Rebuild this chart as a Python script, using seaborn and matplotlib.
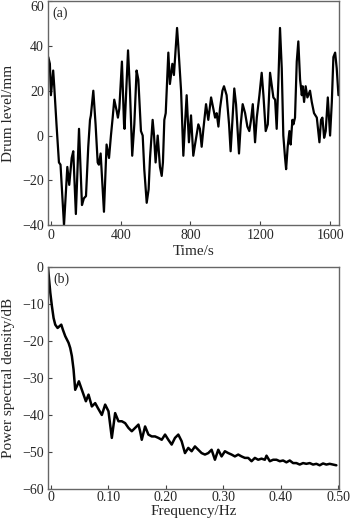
import numpy as np
import pandas as pd
import matplotlib
matplotlib.use("Agg")
import matplotlib.pyplot as plt
import seaborn as sns

# (a) drum level time series
time_s = [-15, -6, 0, 13, 19, 32, 46, 55, 75, 94, 105, 119, 128, 143, 161, 178, 189, 201,
          214, 224, 229, 243, 256, 268, 275, 285, 304, 319, 333, 344, 354, 363, 377, 384,
          392, 407, 419, 422, 442, 453, 466, 478, 491, 501, 516, 526, 535, 549, 560, 568,
          583, 591, 600, 612, 625, 635, 642, 650, 658, 673, 682, 696, 705, 723, 730, 746,
          759, 767, 778, 791, 803, 816, 826, 845, 854, 864, 874, 889, 902, 918, 941, 950,
          960, 969, 983, 992, 1007, 1021, 1030, 1046, 1051, 1061, 1078, 1088, 1099, 1113,
          1126, 1137, 1147, 1157, 1170, 1180, 1195, 1208, 1218, 1231, 1243, 1256, 1275,
          1285, 1294, 1304, 1313, 1323, 1332, 1342, 1348, 1357, 1367, 1374, 1384, 1390,
          1399, 1409, 1418, 1428, 1438, 1443, 1451, 1460, 1470, 1485, 1495, 1508, 1524,
          1539, 1548, 1556, 1566, 1575, 1587, 1600, 1610, 1619, 1629, 1638, 1648]
level_mm = [35, 32, 18, 29, 22, 5, -12, -13, -40, -14, -22, -10, -7, -35, 3, -31, -28, -27,
            -5, 7, 9, 20, 5, -12, -13, -8, -34, -4, -10, 0, 8, 16, 11, 8,
            12, 33, 5, 3, 38, 20, -9, 5, 29, 25, 2, 0, -15, -30, -24, -10,
            7, 0, -12, 0, -14, -18, -12, 7, 10, 37, 23, 32, 27, 48, 40, 20,
            -9, 3, 18, -3, 9, -9, -4, 5, 3, -5, 3, 14, 7, 17, 8, 10,
            4, 12, 20, 22, 18, 5, -7, 15, 21, 14, -8, 5, 14, 10,
            4, 2, 7, 14, -3, 8, 18, 28, 18, 2, 5, 28, 17,
            16, 3, 25, 48, 30, 0, -10, -15, -5, 2, -4, 7, 5,
            8, 33, 42, 25, 18, 22, 15, 22, 17, 20, 15, 10, 8,
            -3, 7, 8, -1, 2, 17, 0, 15, 35, 37, 30, 18]

# (b) power spectral density
freq_hz = [-0.0055, -0.0014, 0.0014, 0.0043, 0.0072, 0.0113, 0.0148, 0.0177, 0.0206, 0.0246,
           0.0304, 0.0333, 0.0362, 0.0391, 0.0420, 0.0461, 0.0484, 0.0536, 0.0606, 0.0652,
           0.0710, 0.0768, 0.0814, 0.0884, 0.0942, 0.1000, 0.1058, 0.1116, 0.1174, 0.1232,
           0.1290, 0.1348, 0.1406, 0.1464, 0.1522, 0.1551, 0.1580, 0.1638, 0.1696, 0.1754,
           0.1812, 0.1870, 0.1928, 0.1986, 0.2043, 0.2101, 0.2159, 0.2217, 0.2275, 0.2333,
           0.2391, 0.2449, 0.2507, 0.2565, 0.2623, 0.2681, 0.2739, 0.2797, 0.2855, 0.2913,
           0.2971, 0.3029, 0.3087, 0.3145, 0.3203, 0.3261, 0.3319, 0.3377, 0.3435, 0.3493,
           0.3551, 0.3609, 0.3667, 0.3725, 0.3754, 0.3812, 0.3870, 0.3928, 0.3986, 0.4043,
           0.4101, 0.4159, 0.4217, 0.4275, 0.4333, 0.4391, 0.4449, 0.4507, 0.4565, 0.4623,
           0.4681, 0.4739, 0.4797, 0.4855, 0.4913, 0.4971]
psd_db = [0.0, -7.0, -10.6, -13.8, -15.6, -16.5, -16.0, -15.6, -17.0, -18.7,
          -20.5, -21.9, -24.1, -27.7, -33.2, -31.8, -30.9, -33.2, -36.3, -34.5,
          -37.7, -36.8, -38.1, -40.0, -37.2, -39.0, -46.2, -39.5, -41.7, -41.7,
          -42.2, -43.5, -44.4, -43.5, -42.6, -44.4, -46.7, -43.1, -45.3, -45.8,
          -45.8, -46.2, -46.7, -45.3, -46.7, -48.0, -46.2, -45.3, -47.1, -50.3,
          -48.9, -49.8, -48.5, -49.4, -50.3, -50.7, -50.3, -49.4, -52.1, -49.4,
          -51.2, -49.8, -50.3, -50.7, -51.2, -50.7, -51.2, -51.6, -51.6, -52.5,
          -51.6, -52.1, -51.8, -52.1, -51.0, -52.5, -52.1, -52.1, -52.5, -52.3,
          -52.8, -52.3, -53.0, -53.0, -53.4, -53.0, -53.2, -53.0, -53.4, -53.2,
          -53.6, -53.1, -53.4, -53.2, -53.4, -53.6]

sns.set_style("ticks")
plt.rcParams["font.family"] = ["Liberation Serif", "DejaVu Serif"]
plt.rcParams["xtick.direction"] = "in"
plt.rcParams["ytick.direction"] = "in"

df_a = pd.DataFrame({"t": time_s, "level": level_mm})
df_b = pd.DataFrame({"f": freq_hz, "psd": psd_db})

fig = plt.figure(figsize=(3.5, 5.25), dpi=100)
ax1 = fig.add_axes([0.137, 0.571, 0.832, 0.427])
ax2 = fig.add_axes([0.137, 0.0686, 0.832, 0.423])

sns.lineplot(data=df_a, x="t", y="level", ax=ax1, color="black", lw=1.6, sort=False)
sns.lineplot(data=df_b, x="f", y="psd", ax=ax2, color="black", lw=1.8, sort=False)

ax1.set_xlim(-17, 1652)
ax1.set_ylim(-40, 60)
ax1.set_xticks([0, 400, 800, 1200, 1600])
ax1.set_yticks([-40, -20, 0, 20, 40, 60])
ax1.set_xlabel("Time/s", fontsize=11)
ax1.set_ylabel("Drum level/mm", fontsize=11)
ax1.xaxis.set_label_coords(0.5, -0.088)
ax1.yaxis.set_label_coords(-0.112, 0.5)
ax1.text(0.014, 0.975, "(a)", transform=ax1.transAxes, va="top", ha="left", fontsize=10)

ax2.set_xlim(-0.0055, 0.502)
ax2.set_ylim(-60, 0)
ax2.set_xticks([0, 0.1, 0.2, 0.3, 0.4, 0.5])
ax2.set_xticklabels(["0", "0.10", "0.20", "0.30", "0.40", "0.50"])
ax2.set_yticks([-60, -50, -40, -30, -20, -10, 0])
ax2.set_xlabel("Frequency/Hz", fontsize=11)
ax2.set_ylabel("Power spectral density/dB", fontsize=11)
ax2.xaxis.set_label_coords(0.5, -0.074)
ax2.yaxis.set_label_coords(-0.112, 0.5)
ax2.text(0.017, 0.975, "(b)", transform=ax2.transAxes, va="top", ha="left", fontsize=10)

for ax in (ax1, ax2):
    ax.tick_params(labelsize=10, length=3, width=0.8, pad=3, color="#444444")
    for sp in ax.spines.values():
        sp.set_visible(True)
        sp.set_color("#666666")
        sp.set_linewidth(1.0)
ax2.tick_params(axis="x", pad=1.5)

# keep the top "60" label inside the figure, as in the reference
fig.canvas.draw()
ax1.get_yticklabels()[-1].set_va("top")

fig.savefig("out.png", dpi=100)
